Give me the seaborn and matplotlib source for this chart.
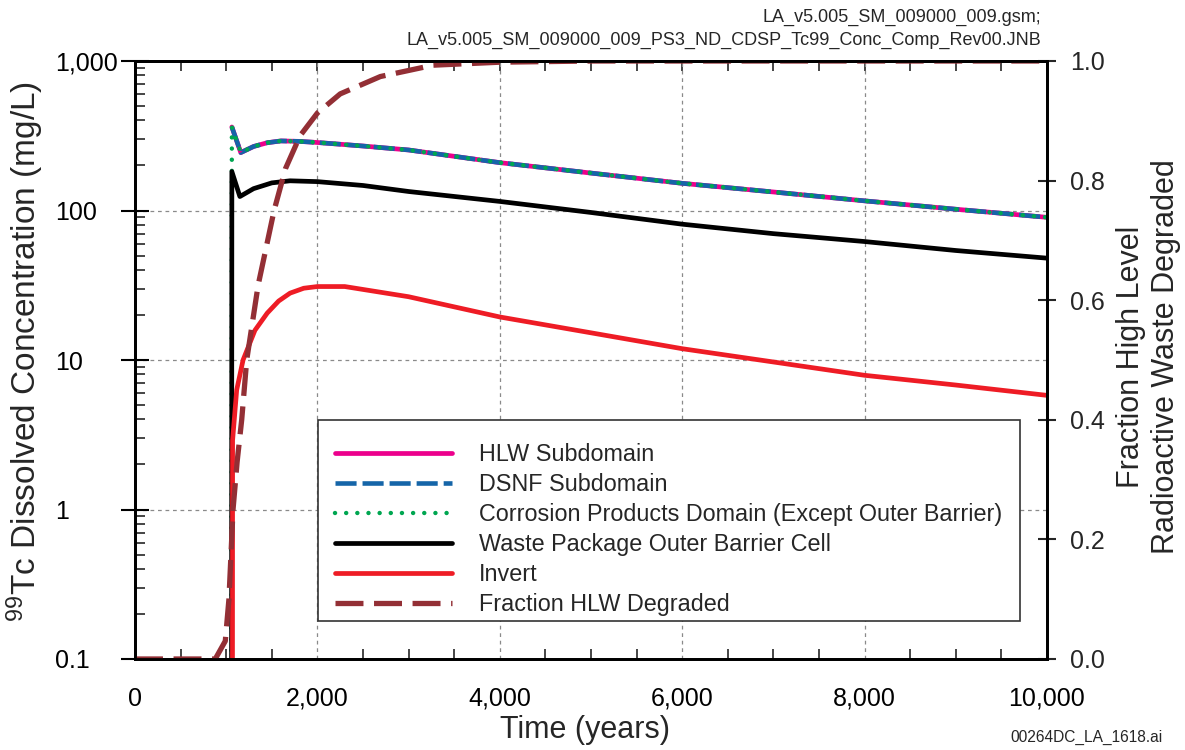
import numpy as np
import pandas as pd
import matplotlib
matplotlib.use("Agg")
import matplotlib.pyplot as plt
import seaborn as sns
from matplotlib.patches import Rectangle
from matplotlib.ticker import FuncFormatter, MultipleLocator, LogLocator, FixedLocator

# ==========================================
# Data
# ==========================================
hlw_time = [1062, 1160, 1300, 1450, 1600, 1800, 2000, 2500, 3000, 4000, 5000, 6000, 7000, 8000, 9000, 10000]
hlw_conc = [362, 244, 268, 284, 292, 290, 285, 270, 254, 209, 178, 152, 133, 116, 102, 90]

dsnf_time = [1062, 1160, 1300, 1450, 1600, 1800, 2000, 2500, 3000, 4000, 5000, 6000, 7000, 8000, 9000, 10000]
dsnf_conc = [362, 244, 268, 284, 292, 290, 285, 270, 254, 209, 178, 152, 133, 116, 102, 90]

cp_time = [1058, 1062, 1160, 1300, 1450, 1600, 1800, 2000, 2500, 3000, 4000, 5000, 6000, 7000, 8000, 9000, 10000]
cp_conc = [0.01, 362, 244, 268, 284, 292, 290, 285, 270, 254, 209, 178, 152, 133, 116, 102, 90]

wp_time = [1058, 1062, 1150, 1300, 1500, 1700, 2000, 2500, 3000, 4000, 5000, 6000, 7000, 8000, 9000, 10000]
wp_conc = [0.01, 182, 124, 140, 153, 158, 156, 147, 134, 115, 97, 81, 70, 62, 54, 48]

invert_time = [1068, 1070, 1115, 1185, 1315, 1450, 1575, 1700, 1850, 2000, 2300,
               3000, 4000, 5000, 6000, 7000, 8000, 9000, 10000]
invert_conc = [0.01, 2.9, 6.3, 10, 15.8, 20.6, 24.8, 28, 30.2, 31, 31,
               26.5, 19.4, 15.2, 11.9, 9.7, 7.9, 6.8, 5.8]

frac_time = [0, 880, 990, 1030, 1075, 1120, 1170, 1225, 1350, 1525, 1650, 1810,
             2000, 2250, 2690, 3270, 4000, 5000, 10000]
frac_hlw = [0, 0, 0.03, 0.10, 0.25, 0.33, 0.40, 0.50, 0.625, 0.75, 0.82, 0.875,
            0.913, 0.945, 0.974, 0.993, 0.998, 1.0, 1.0]

labels = ["HLW Subdomain", "DSNF Subdomain",
          "Corrosion Products Domain (Except Outer Barrier)",
          "Waste Package Outer Barrier Cell", "Invert", "Fraction HLW Degraded"]

# ==========================================
# Style
# ==========================================
sns.set_style("white")
plt.rcParams["font.family"] = ["Liberation Sans", "DejaVu Sans"]
plt.rcParams["axes.linewidth"] = 2.0

fig = plt.figure(figsize=(11.85, 7.5), dpi=100)
ax = fig.add_axes([135 / 1185, 1 - 659 / 750, 912 / 1185, 598 / 750])
ax.set_yscale("log")

def draw(axis, t, v, color, lw, ls, label, **kw):
    df = pd.DataFrame({"t": t, "v": v})
    sns.lineplot(data=df, x="t", y="v", ax=axis, color=color, linewidth=lw,
                 linestyle=ls, label=label, legend=False, errorbar=None, **kw)

draw(ax, hlw_time, hlw_conc, "#ec008c", 3.4, "-", labels[0])
draw(ax, dsnf_time, dsnf_conc, "#1565a8", 3.3, (0, (4.6, 1.3)), labels[1])
draw(ax, cp_time, cp_conc, "#00a651", 3.2, (0, (0.01, 2.5)), labels[2],
     dash_capstyle="round")
draw(ax, wp_time, wp_conc, "black", 3.4, "-", labels[3])
draw(ax, invert_time, invert_conc, "#ee1c25", 3.4, "-", labels[4])

ax.set_xlim(0, 10000)
ax.set_ylim(0.1, 1000)

ax2 = ax.twinx()
draw(ax2, frac_time, frac_hlw, "#932f35", 3.8, (0, (5.3, 2.0)), labels[5])
ax2.set_ylim(0, 1)

# ==========================================
# Axes, ticks, grid
# ==========================================
ax.xaxis.set_major_locator(MultipleLocator(2000))
ax.xaxis.set_minor_locator(MultipleLocator(500))
ax.xaxis.set_major_formatter(FuncFormatter(lambda v, p: f"{v:,.0f}"))
ax.yaxis.set_major_locator(FixedLocator([0.1, 1, 10, 100, 1000]))
ax.yaxis.set_minor_locator(LogLocator(base=10, subs=np.arange(2, 10)))
ax.yaxis.set_major_formatter(
    FuncFormatter(lambda v, p: f"{v:,.0f}" if v >= 1 else f"{v:g}"))

ax.tick_params(which="major", direction="inout", width=1.5, labelsize=18,
               colors="black", top=False, right=False)
ax.tick_params(axis="y", which="major", length=20, pad=47.6)
ax.tick_params(axis="x", which="major", length=18, pad=11)
ax.tick_params(which="minor", direction="in", length=7, width=1.2,
               top=False, right=False, left=True, bottom=True)
for lab in ax.get_yticklabels():
    lab.set_horizontalalignment("left")

ax2.yaxis.set_major_locator(MultipleLocator(0.2))
ax2.yaxis.set_major_formatter(FuncFormatter(lambda v, p: f"{v:.1f}"))
ax2.tick_params(which="major", direction="inout", length=13, width=1.5,
                labelsize=18, pad=10)

sec = ax.secondary_xaxis("top")
sec.xaxis.set_major_locator(MultipleLocator(500))
sec.tick_params(direction="in", length=7, width=1.2, labeltop=False)

ax.grid(True, which="major", color="#8a8a8a", linestyle=(0, (3, 3)), linewidth=0.9)

for a in (ax, ax2):
    for s in a.spines.values():
        s.set_linewidth(2.0)
        s.set_color("black")

ax.set_xlabel("Time (years)", fontsize=22)
ax.xaxis.set_label_coords(0.4934, -0.0936)
ax.set_ylabel(r"$\mathregular{^{99}}$Tc Dissolved Concentration (mg/L)", fontsize=24)
ax.yaxis.set_label_coords(-0.0976, 0.515)
ax2.set_ylabel("Fraction High Level\nRadioactive Waste Degraded", fontsize=22)
ax2.yaxis.set_label_coords(1.0757, 0.505)

# ==========================================
# Legend
# ==========================================
box = Rectangle((0.2007, 0.0635), 0.7697, 0.3362, transform=ax2.transAxes,
                facecolor="white", edgecolor="#333333", linewidth=1.2, zorder=3)
ax2.add_patch(box)
h1, l1 = ax.get_legend_handles_labels()
h2, l2 = ax2.get_legend_handles_labels()
leg = ax2.legend(h1 + h2, l1 + l2, loc="center left", bbox_to_anchor=(0.2193, 0.216),
                 frameon=False, fontsize=16.8, handlelength=5.0, handletextpad=1.16,
                 labelspacing=0.30, borderpad=0, borderaxespad=0)
leg.set_zorder(5)

# ==========================================
# Annotations
# ==========================================
fig.text(1041 / 1185, 1 - 17 / 750, "LA_v5.005_SM_009000_009.gsm;",
         ha="right", va="center", fontsize=13)
fig.text(1041 / 1185, 1 - 40 / 750,
         "LA_v5.005_SM_009000_009_PS3_ND_CDSP_Tc99_Conc_Comp_Rev00.JNB",
         ha="right", va="center", fontsize=13)
fig.text(1163 / 1185, 1 - 737 / 750, "00264DC_LA_1618.ai",
         ha="right", va="center", fontsize=11.2)

fig.savefig("out.png", dpi=100)
plt.close(fig)
